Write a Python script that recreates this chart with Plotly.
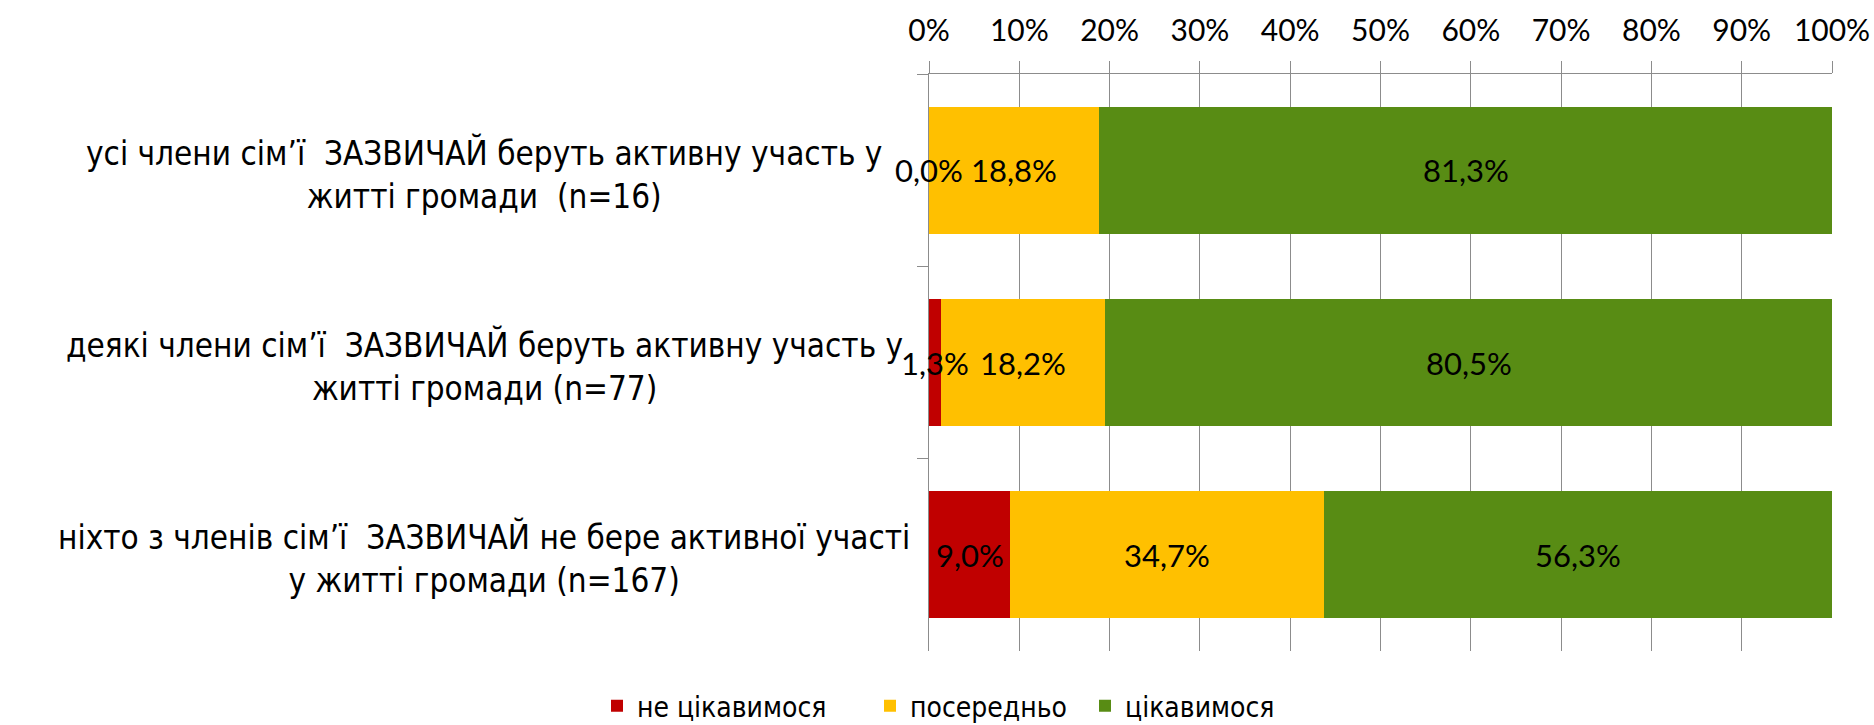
import plotly.graph_objects as go

# Survey groups (top to bottom) and answer shares
categories = [
    "усі члени сім\u2019ї  ЗАЗВИЧАЙ беруть активну участь у<br>житті громади  (n=16)",
    "деякі члени сім\u2019ї  ЗАЗВИЧАЙ беруть активну участь у<br>житті громади (n=77)",
    "ніхто з членів сім\u2019ї  ЗАЗВИЧАЙ не бере активної участі<br>у житті громади (n=167)",
]
series_names = ["не цікавимося", "посередньо", "цікавимося"]
not_interested = [0.0, 1.3, 9.0]
moderate = [18.8, 18.2, 34.7]
interested = [81.3, 80.5, 56.3]
colors = ["#C00000", "#FFC000", "#588C14"]

series_values = [not_interested, moderate, interested]
ykeys = ["c0", "c1", "c2"]

LABEL_FONT = "Liberation Sans Narrow, DejaVu Sans Condensed, Arial Narrow, sans-serif"
NUM_FONT = "Lato, Open Sans, sans-serif"

W, H = 1874, 725
L, R, T, B = 929, 42, 74, 74
pw = W - L - R

# one legend box per series so the entries can be spaced freely
legend_ids = ["legend", "legend2", "legend3"]
legend_left_px = [597, 870, 1085]

fig = go.Figure()
for name, vals, col, lid in zip(series_names, series_values, colors, legend_ids):
    fig.add_trace(go.Bar(
        y=ykeys, x=[v / 100 for v in vals], name=name, orientation="h",
        marker=dict(color=col, line=dict(width=0)),
        hoverinfo="skip", legend=lid,
    ))

# Value labels centred in each segment
annotations = []
for i, key in enumerate(ykeys):
    start = 0.0
    for vals in series_values:
        v = vals[i]
        annotations.append(dict(
            x=(start + v / 2) / 100, y=key, xref="x", yref="y",
            text=f"{v:.1f}%".replace(".", ","), showarrow=False,
            font=dict(family=NUM_FONT, size=31, color="#000000"),
            xanchor="center", yanchor="middle",
        ))
        start += v

# Category labels, centred lines to the left of the plot
for key, cat in zip(ykeys, categories):
    annotations.append(dict(
        x=(484 - L) / pw, xref="paper", y=key, yref="y", text=cat, showarrow=False,
        align="center", xanchor="center", yanchor="middle", yshift=-4,
        font=dict(family=LABEL_FONT, size=33, color="#000000"),
    ))

legend_style = dict(
    orientation="h", xref="container", yref="container",
    xanchor="left", y=0.026, yanchor="middle",
    font=dict(family=LABEL_FONT, size=28, color="#000000"),
    itemwidth=30, bgcolor="rgba(0,0,0,0)",
)
legends = {lid: dict(legend_style, x=px / W) for lid, px in zip(legend_ids, legend_left_px)}

fig.update_layout(
    width=W, height=H,
    margin=dict(l=L, r=R, t=T, b=B, pad=0, autoexpand=False),
    barmode="stack", bargap=0.34,
    plot_bgcolor="white", paper_bgcolor="white",
    showlegend=True,
    xaxis=dict(
        side="top", range=[0, 1], dtick=0.1, tick0=0, tickformat=".0%",
        showgrid=True, gridcolor="#8C8C8C", gridwidth=1,
        showline=True, linecolor="#8C8C8C", linewidth=1,
        ticks="outside", ticklen=12, tickcolor="#8C8C8C",
        ticklabelstandoff=8, automargin=False,
        tickfont=dict(family=NUM_FONT, size=30, color="#000000"),
        zeroline=False, fixedrange=True,
    ),
    yaxis=dict(
        categoryorder="array", categoryarray=ykeys, autorange="reversed",
        showticklabels=False, showline=True, linecolor="#8C8C8C", linewidth=1,
        ticks="outside", tickson="boundaries", ticklen=11, tickcolor="#8C8C8C",
        showgrid=False, zeroline=False, fixedrange=True, automargin=False,
    ),
    annotations=annotations,
    **legends,
)

fig.write_html("out.html")
